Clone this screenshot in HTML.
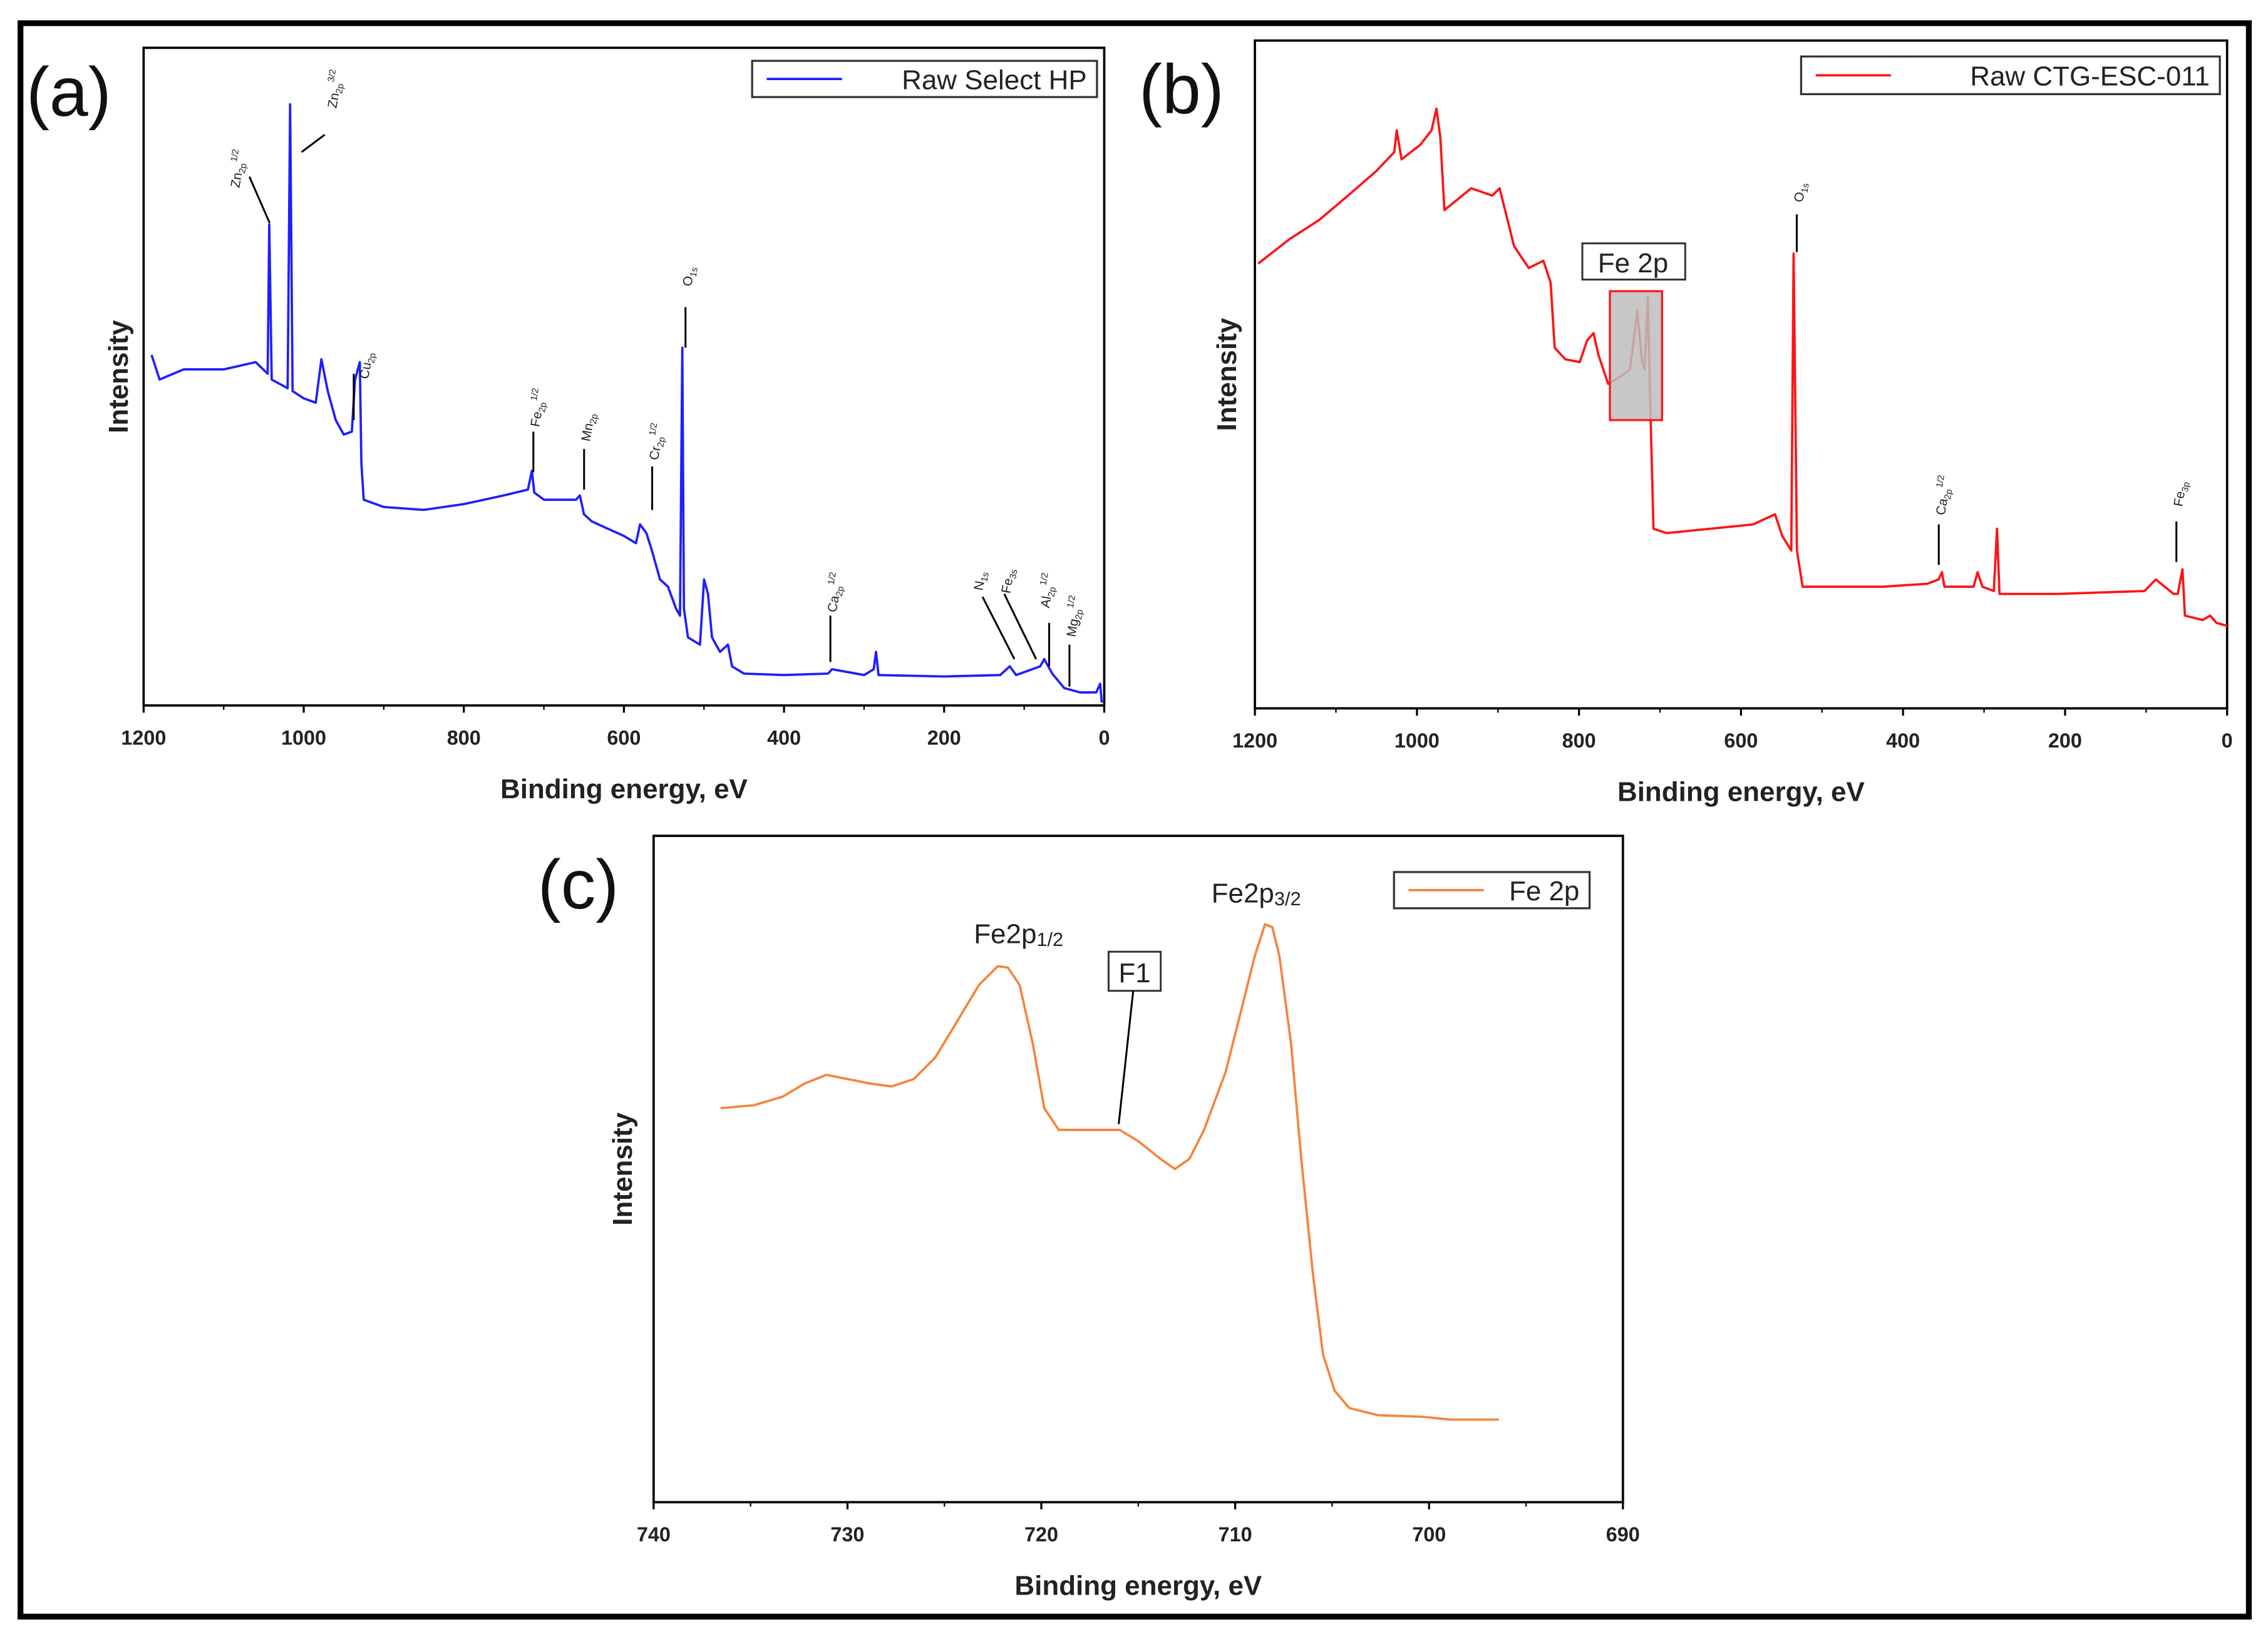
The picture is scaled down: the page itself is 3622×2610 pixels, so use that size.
<!DOCTYPE html>
<html><head><meta charset="utf-8"><style>
html,body{margin:0;padding:0;background:#fff;}
svg{display:block;font-family:"Liberation Sans",sans-serif;}
</style></head><body>
<svg id="fig" width="3622" height="2610" viewBox="0 0 1565.1 1128" xmlns="http://www.w3.org/2000/svg">
<rect x="0" y="0" width="1565.1" height="1128" fill="#fff"/>
<rect x="14" y="16" width="1538" height="1100" fill="none" stroke="#000" stroke-width="4"/>
<g id="gA"></g>
<g id="gB"></g>
<g id="gC"></g>
</svg>
<script>
// Panel (a) data: binding energy (eV) and intensity (a.u.)
const aEnergy=[1190,1180,1150,1100,1060,1045,1043,1040,1020,1017,1014,1000,985,978,970,960,950,940,936,930,928,925,900,850,800,750,720,715,712,700,660,655,650,640,620,600,585,580,572,565,555,545,535,530,527,525,520,505,500,495,490,480,470,465,450,400,345,340,300,288,285,282,200,130,118,110,90,80,75,65,50,30,10,5,3];
const aInt=[242,225,232,232,237,229,332,225,219,415,217,212,209,239,217,197,187,189,225,237,167,142,137,135,139,145,149,162,147,142,142,145,132,127,122,117,112,125,119,107,87,82,67,62,247,67,47,42,87,77,47,37,42,27,22,21,22,25,21,25,37,21,20,21,27,21,25,27,32,22,12,9,9,15,2];
// Panel (b) data
const bEnergy=[1196,1157,1121,1085,1050,1028,1025,1019,996,982,976,971,966,955,933,907,898,889,880,862,844,835,830,817,799,790,782,776,764,749,737,728,722,719,715,712,708,692,638,585,558,549,538,535,531,524,495,424,370,356,352,349,313,308,302,288,284,281,209,102,88,66,61,55,52,30,21,13,0];
const bInt=[307,324,337,354,371,384,399,379,389,399,414,394,344,349,359,354,359,339,319,304,309,294,249,241,239,254,259,244,224,229,234,274,239,234,284,209,124,121,124,127,134,119,109,314,109,84,84,84,86,89,94,84,84,94,84,81,124,79,79,81,89,79,79,96,64,61,64,59,57];
// Panel (c) data
const cEnergy=[736.55,734.83,733.33,732.21,731.09,729.96,728.84,727.72,726.59,725.47,724.34,723.22,722.25,721.72,721.12,720.45,719.85,719.10,717.98,716.85,715.96,714.98,713.86,713.11,712.36,711.61,710.49,709.74,708.99,708.46,708.09,707.72,707.12,706.59,705.99,705.47,704.87,704.12,702.62,700.37,698.88,696.40];
const cInt=[272,274,280,289,295,292,289,287,292,307,332,357,370,369,357,317,272,257,257,257,257,249,237,230,237,257,297,337,377,399,397,377,317,237,157,102,77,65,60,59,57,57];
const aTicks=[1200,1000,800,600,400,200,0];
const bTicks=[1200,1000,800,600,400,200,0];
const cTicks=[740,730,720,710,700,690];

const NS="http://www.w3.org/2000/svg";
function mk(parent,tag,attrs,text){const e=document.createElementNS(NS,tag);for(const k in attrs)e.setAttribute(k,attrs[k]);if(text!==undefined)e.textContent=text;parent.appendChild(e);return e;}

function panel(g,cfg){
  const {x0,x1,y0,y1,emax,emin,imax,energy,inten,ticks,color}=cfg;
  const sx=e=>x0+(emax-e)/(emax-emin)*(x1-x0);
  const sy=v=>y1-v/imax*(y1-y0);
  const frame=mk(g,'rect',{x:x0,y:y0,width:x1-x0,height:y1-y0,fill:'none',stroke:'#000','stroke-width':1.6});
  
  
  ticks.forEach(t=>{
    const tk=mk(g,'line',{x1:sx(t),x2:sx(t),y1:y1,y2:y1+5,stroke:'#000','stroke-width':1.4});
    
    
    const tl=mk(g,'text',{x:sx(t),y:y1+27,'text-anchor':'middle','font-size':14,'font-weight':'bold',fill:'#222'},String(t));
    
    
  });
  for(let i=0;i<ticks.length-1;i++){
    const m=(ticks[i]+ticks[i+1])/2;
    const mt=mk(g,'line',{x1:sx(m),x2:sx(m),y1:y1,y2:y1+3,stroke:'#000','stroke-width':1});
    
    
  }
  let d='';
  energy.forEach((e,i)=>{d+=(i?'L':'M')+sx(e).toFixed(1)+','+sy(inten[i]).toFixed(1);});
  const p=mk(g,'path',{d:d,fill:'none',stroke:color,'stroke-width':1.6,'stroke-linejoin':'round'});
  
  
  const xl=mk(g,'text',{x:(x0+x1)/2,y:y1+64,'text-anchor':'middle','font-size':19,'font-weight':'bold',fill:'#222'},'Binding energy, eV');
  
  
  const yl=mk(g,'text',{x:0,y:0,transform:`translate(${cfg.ylx},${(y0+y1)/2}) rotate(-90)`,'text-anchor':'middle','font-size':19,'font-weight':'bold',fill:'#222'},'Intensity');
  
  
  const pl=mk(g,'text',{x:cfg.plx,y:cfg.ply,'font-size':48,fill:'#111'},cfg.plabel);
  
  
  const lg=mk(g,'g',{});
  
  
  const L=cfg.leg;
  mk(lg,'rect',{x:L[0],y:L[1],width:L[2]-L[0],height:L[3]-L[1],fill:'#fff',stroke:'#333','stroke-width':1.4});
  mk(lg,'line',{x1:L[0]+10,x2:L[0]+62,y1:(L[1]+L[3])/2,y2:(L[1]+L[3])/2,stroke:color,'stroke-width':1.6});
  mk(lg,'text',{x:L[2]-7,y:(L[1]+L[3])/2+7,'text-anchor':'end','font-size':19,fill:'#222'},cfg.legText);
  return {sx,sy};
}
function ann(g,tx,ty,rot,txt,sub,sup,line,fs){
  const t=mk(g,'text',{x:0,y:0,transform:`translate(${tx},${ty}) rotate(${rot})`,'font-size':fs||9,fill:'#222'});
  
  
  mk(t,'tspan',{},txt);
  if(sub)mk(t,'tspan',{'font-size':(fs||9)*0.7,dy:2},sub);
  if(sup)mk(t,'tspan',{'font-size':(fs||9)*0.7,dy:-7},sup);
  if(line){const l=mk(g,'line',{x1:line[0],y1:line[1],x2:line[2],y2:line[3],stroke:'#000','stroke-width':1.3});
    
    }
}
const gA=document.getElementById('gA'),gB=document.getElementById('gB'),gC=document.getElementById('gC');
panel(gA,{x0:99,x1:762,y0:33,y1:487,emax:1200,emin:0,imax:454,energy:aEnergy,inten:aInt,ticks:aTicks,color:'#1f1fff',ylx:88,plx:18,ply:80,plabel:'(a)',leg:[519,42,757,67],legText:'Raw Select HP'});
panel(gB,{x0:866,x1:1537,y0:28,y1:489,emax:1200,emin:0,imax:461,energy:bEnergy,inten:bInt,ticks:bTicks,color:'#ff1414',ylx:853,plx:786,ply:78,plabel:'(b)',leg:[1243,39,1532,65],legText:'Raw CTG-ESC-011'});
panel(gC,{x0:451,x1:1120,y0:577,y1:1037,emax:740,emin:690,imax:460,energy:cEnergy,inten:cInt,ticks:cTicks,color:'#f5843c',ylx:436,plx:371,ply:627,plabel:'(c)',leg:[962,602,1097,627],legText:'Fe 2p'});
// annotations (a)
ann(gA,165,130,-80,'Zn','2p','1/2',[172,122,186,154]);
ann(gA,232,75,-80,'Zn','2p','3/2',[208,105,224,93]);
ann(gA,254,262,-80,'Cu','2p','',[244,258,244,290]);
ann(gA,372,295,-80,'Fe','2p','1/2',[368,298,368,326]);
ann(gA,407,305,-80,'Mn','2p','',[403,310,403,338]);
ann(gA,454,318,-80,'Cr','2p','1/2',[450,322,450,352]);
ann(gA,477,198,-80,'O','1s','',[473,212,473,240]);
ann(gA,577,423,-80,'Ca','2p','1/2',[573,425,573,457]);
ann(gA,678,408,-80,'N','1s','',[678,412,700,455]);
ann(gA,697,410,-80,'Fe','3s','',[693,410,715,455]);
ann(gA,724,420,-80,'Al','2p','1/2',[724,430,724,460]);
ann(gA,742,440,-80,'Mg','2p','1/2',[738,445,738,474]);
// annotations (b)
ann(gB,1244,140,-80,'O','1s','',[1240,148,1240,174]);
ann(gB,1342,356,-80,'Ca','2p','1/2',[1338,362,1338,390]);
ann(gB,1506,350,-80,'Fe','3p','',[1502,360,1502,388]);
const gr=mk(gB,'rect',{x:1111,y:201,width:36,height:89,fill:'#bdbdbd','fill-opacity':0.85,stroke:'#ff1414','stroke-width':1.4});


const fb=mk(gB,'rect',{x:1092,y:168,width:71,height:25,fill:'#fff',stroke:'#333','stroke-width':1.3});


const ft=mk(gB,'text',{x:1127,y:188,'text-anchor':'middle','font-size':19,fill:'#222'},'Fe 2p');


// annotations (c)
ann(gC,672,651,0,'Fe2p','1/2','',null,19);
ann(gC,836,623,0,'Fe2p','3/2','',null,19);
const f1=mk(gC,'rect',{x:765,y:657,width:36,height:27,fill:'#fff',stroke:'#333','stroke-width':1.3});


const f1t=mk(gC,'text',{x:783,y:678,'text-anchor':'middle','font-size':19,fill:'#222'},'F1');


const f1l=mk(gC,'line',{x1:782,y1:684,x2:772,y2:776,stroke:'#000','stroke-width':1.3});


</script>
</body></html>
